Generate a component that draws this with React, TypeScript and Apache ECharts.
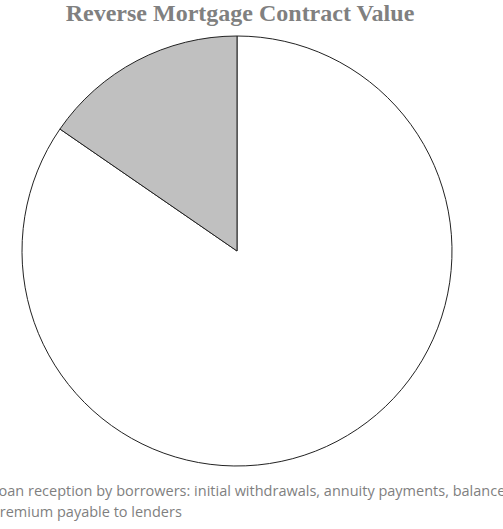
import React, { useEffect, useRef } from "react";
import * as echarts from "echarts";

const titleText = "Reverse Mortgage Contract Value";
const categories = [
  "Loan reception by borrowers: initial withdrawals, annuity payments, balance",
  "Premium payable to lenders",
];
const values = [84.6, 15.4];
const colors = ["#ffffff", "#c0c0c0"];

export default function App() {
  const ref = useRef<HTMLDivElement>(null);
  useEffect(() => {
    if (!ref.current) return;
    const chart = echarts.init(ref.current, null, { renderer: "svg" });
    chart.setOption({
      animation: false,
      title: {
        text: titleText,
        left: 235,
        textAlign: "center",
        top: -4,
        textStyle: {
          fontFamily: "Liberation Serif",
          fontWeight: "bold",
          fontSize: 24,
          color: "#808080",
        },
      },
      legend: {
        orient: "vertical",
        left: -45,
        top: 477,
        itemWidth: 25,
        itemHeight: 14,
        itemGap: 5,
        data: categories,
        textStyle: {
          fontFamily: "Open Sans",
          fontSize: 14.5,
          lineHeight: 16,
          color: "#7f7f7f",
        },
      },
      series: [
        {
          type: "pie",
          center: [237, 251],
          radius: 215,
          startAngle: 90,
          clockwise: true,
          label: { show: false },
          labelLine: { show: false },
          emphasis: { disabled: true },
          itemStyle: { borderColor: "#222222", borderWidth: 1 },
          data: categories.map((c, i) => ({
            name: c,
            value: values[i],
            itemStyle: { color: colors[i] },
          })),
        },
      ],
    });
    return () => chart.dispose();
  }, []);
  return <div ref={ref} style={{ width: 503, height: 529, position: "absolute", left: 0, top: 0 }} />;
}
